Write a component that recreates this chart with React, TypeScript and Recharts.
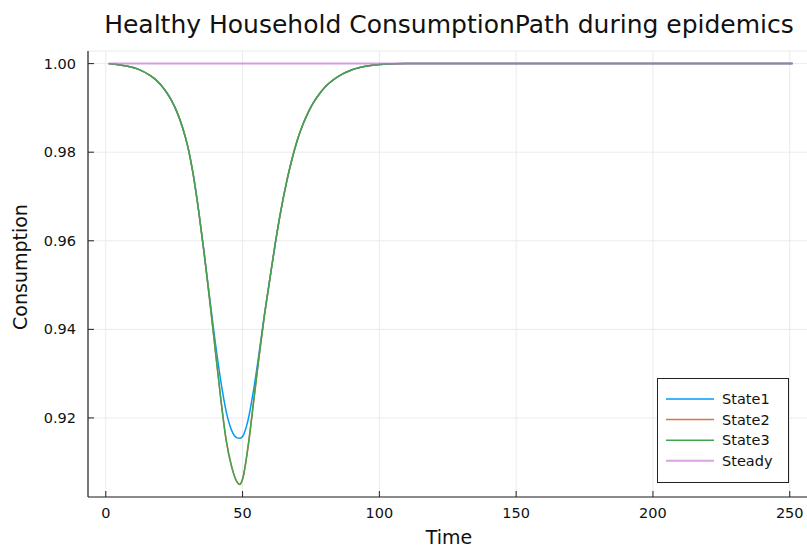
import { LineChart, Line, XAxis, YAxis, CartesianGrid } from 'recharts'

// time steps (denser around the trough)
const time = [1, 4, 8, 12, 16, 18, 20, 22, 24, 26, 28, 30, 32, 34, 36, 38, 40, 42, 44, 46, 48, 49, 50, 52, 54, 56, 58, 60, 62, 64, 66, 68, 70, 72, 74, 76, 78, 80, 85, 90, 95, 100, 110, 130, 170, 210, 251]

const state1 = [1.0, 0.9998, 0.9994, 0.9987, 0.9974, 0.9965, 0.9953, 0.9937, 0.9917, 0.9891, 0.9857, 0.9812, 0.9748, 0.9665, 0.957, 0.947, 0.9372, 0.9285, 0.9215, 0.9172, 0.9155, 0.9154, 0.9158, 0.9195, 0.9262, 0.9345, 0.9434, 0.9515, 0.9596, 0.9668, 0.973, 0.9783, 0.9827, 0.9862, 0.989, 0.9913, 0.9931, 0.9946, 0.9971, 0.9986, 0.9994, 0.9998, 1.0, 1.0, 1.0, 1.0, 1.0]

const state2 = [1.0, 0.9998, 0.9994, 0.9987, 0.9974, 0.9965, 0.9953, 0.9937, 0.9917, 0.9891, 0.9857, 0.9812, 0.9748, 0.9665, 0.957, 0.9465, 0.9355, 0.9245, 0.915, 0.909, 0.9055, 0.905, 0.9062, 0.9135, 0.9235, 0.9338, 0.9432, 0.9515, 0.9596, 0.9668, 0.973, 0.9783, 0.9827, 0.9862, 0.989, 0.9913, 0.9931, 0.9946, 0.9971, 0.9986, 0.9994, 0.9998, 1.0, 1.0, 1.0, 1.0, 1.0]

const state3 = [1.0, 0.9998, 0.9994, 0.9987, 0.9974, 0.9965, 0.9953, 0.9937, 0.9917, 0.9891, 0.9857, 0.9812, 0.9748, 0.9665, 0.957, 0.9465, 0.9355, 0.9245, 0.915, 0.909, 0.9055, 0.905, 0.9062, 0.9135, 0.9235, 0.9338, 0.9432, 0.9515, 0.9596, 0.9668, 0.973, 0.9783, 0.9827, 0.9862, 0.989, 0.9913, 0.9931, 0.9946, 0.9971, 0.9986, 0.9994, 0.9998, 1.0, 1.0, 1.0, 1.0, 1.0]

const steady = time.map(() => 1.0)

const xTicks = [0, 50, 100, 150, 200, 250]
const yTicks = [0.92, 0.94, 0.96, 0.98, 1.0]

const series = [
    { key: 'State1', color: '#009af9', opacity: 1, width: 1.5 },
    { key: 'State2', color: '#e26f46', opacity: 1, width: 1.5 },
    { key: 'State3', color: '#3ea44e', opacity: 1, width: 1.5 },
    { key: 'Steady', color: '#c271d2', opacity: 0.65, width: 2 },
]

const data = time.map((t, i) => ({
    t,
    State1: state1[i],
    State2: state2[i],
    State3: state3[i],
    Steady: steady[i],
}))

const FONT = '"DejaVu Sans", sans-serif'
const PLOT_LEFT = 88
const PLOT_BOTTOM = 497
const AXIS = '#222'

const XTick = (props: any) => {
    const { x, payload } = props
    return (
        <g>
            <line x1={x} x2={x} y1={PLOT_BOTTOM} y2={PLOT_BOTTOM - 6} stroke={AXIS} strokeWidth={1} />
            <text x={x} y={518} textAnchor="middle" fontSize={14.5} fontFamily={FONT} fill="#111">{payload.value}</text>
        </g>
    )
}

const YTick = (props: any) => {
    const { y, payload } = props
    return (
        <g>
            <line x1={PLOT_LEFT} x2={PLOT_LEFT + 6} y1={y} y2={y} stroke={AXIS} strokeWidth={1} />
            <text x={76} y={y + 5} textAnchor="end" fontSize={14.5} fontFamily={FONT} fill="#111">{payload.value.toFixed(2)}</text>
        </g>
    )
}

export default function App() {
    return (
        <div style={{ position: 'fixed', left: 0, top: 0, width: 807, height: 548, overflow: 'hidden', background: '#fff' }}>
            <LineChart width={820} height={548} data={data} margin={{ top: 51, right: 7, bottom: 0, left: 28 }}>
                <CartesianGrid stroke="#ebebeb" strokeWidth={1} />
                <XAxis
                    dataKey="t"
                    type="number"
                    domain={[-6.5, 258.5]}
                    ticks={xTicks}
                    allowDataOverflow
                    height={51}
                    tickLine={false}
                    tick={<XTick />}
                    axisLine={{ stroke: AXIS, strokeWidth: 1.2 }}
                />
                <YAxis
                    type="number"
                    domain={[0.90215, 1.00285]}
                    ticks={yTicks}
                    allowDataOverflow
                    width={60}
                    tickLine={false}
                    tick={<YTick />}
                    axisLine={{ stroke: AXIS, strokeWidth: 1.2 }}
                />
                {series.map(s => (
                    <Line
                        key={s.key}
                        type="monotone"
                        dataKey={s.key}
                        stroke={s.color}
                        strokeOpacity={s.opacity}
                        strokeWidth={s.width}
                        dot={false}
                        isAnimationActive={false}
                    />
                ))}
            </LineChart>
            <svg width={807} height={548} style={{ position: 'absolute', left: 0, top: 0, pointerEvents: 'none' }}>
                <text x={449} y={33} textAnchor="middle" fontSize={25} fontFamily={FONT} fill="#111">Healthy Household ConsumptionPath during epidemics</text>
                <text x={449} y={544} textAnchor="middle" fontSize={19} fontFamily={FONT} fill="#111">Time</text>
                <text transform="translate(27,267) rotate(-90)" textAnchor="middle" fontSize={19} fontFamily={FONT} fill="#111">Consumption</text>
                <g transform="translate(657,378)">
                    <rect x={0.5} y={0.5} width={131} height={104} fill="#fff" stroke={AXIS} strokeWidth={1} />
                    {series.map((s, i) => {
                        const cy = 21 + i * 20.6
                        return (
                            <g key={s.key}>
                                <line x1={9} x2={57} y1={cy} y2={cy} stroke={s.color} strokeOpacity={s.opacity} strokeWidth={s.width} />
                                <text x={65} y={cy + 5} fontSize={14.5} fontFamily={FONT} fill="#111">{s.key}</text>
                            </g>
                        )
                    })}
                </g>
            </svg>
        </div>
    )
}
